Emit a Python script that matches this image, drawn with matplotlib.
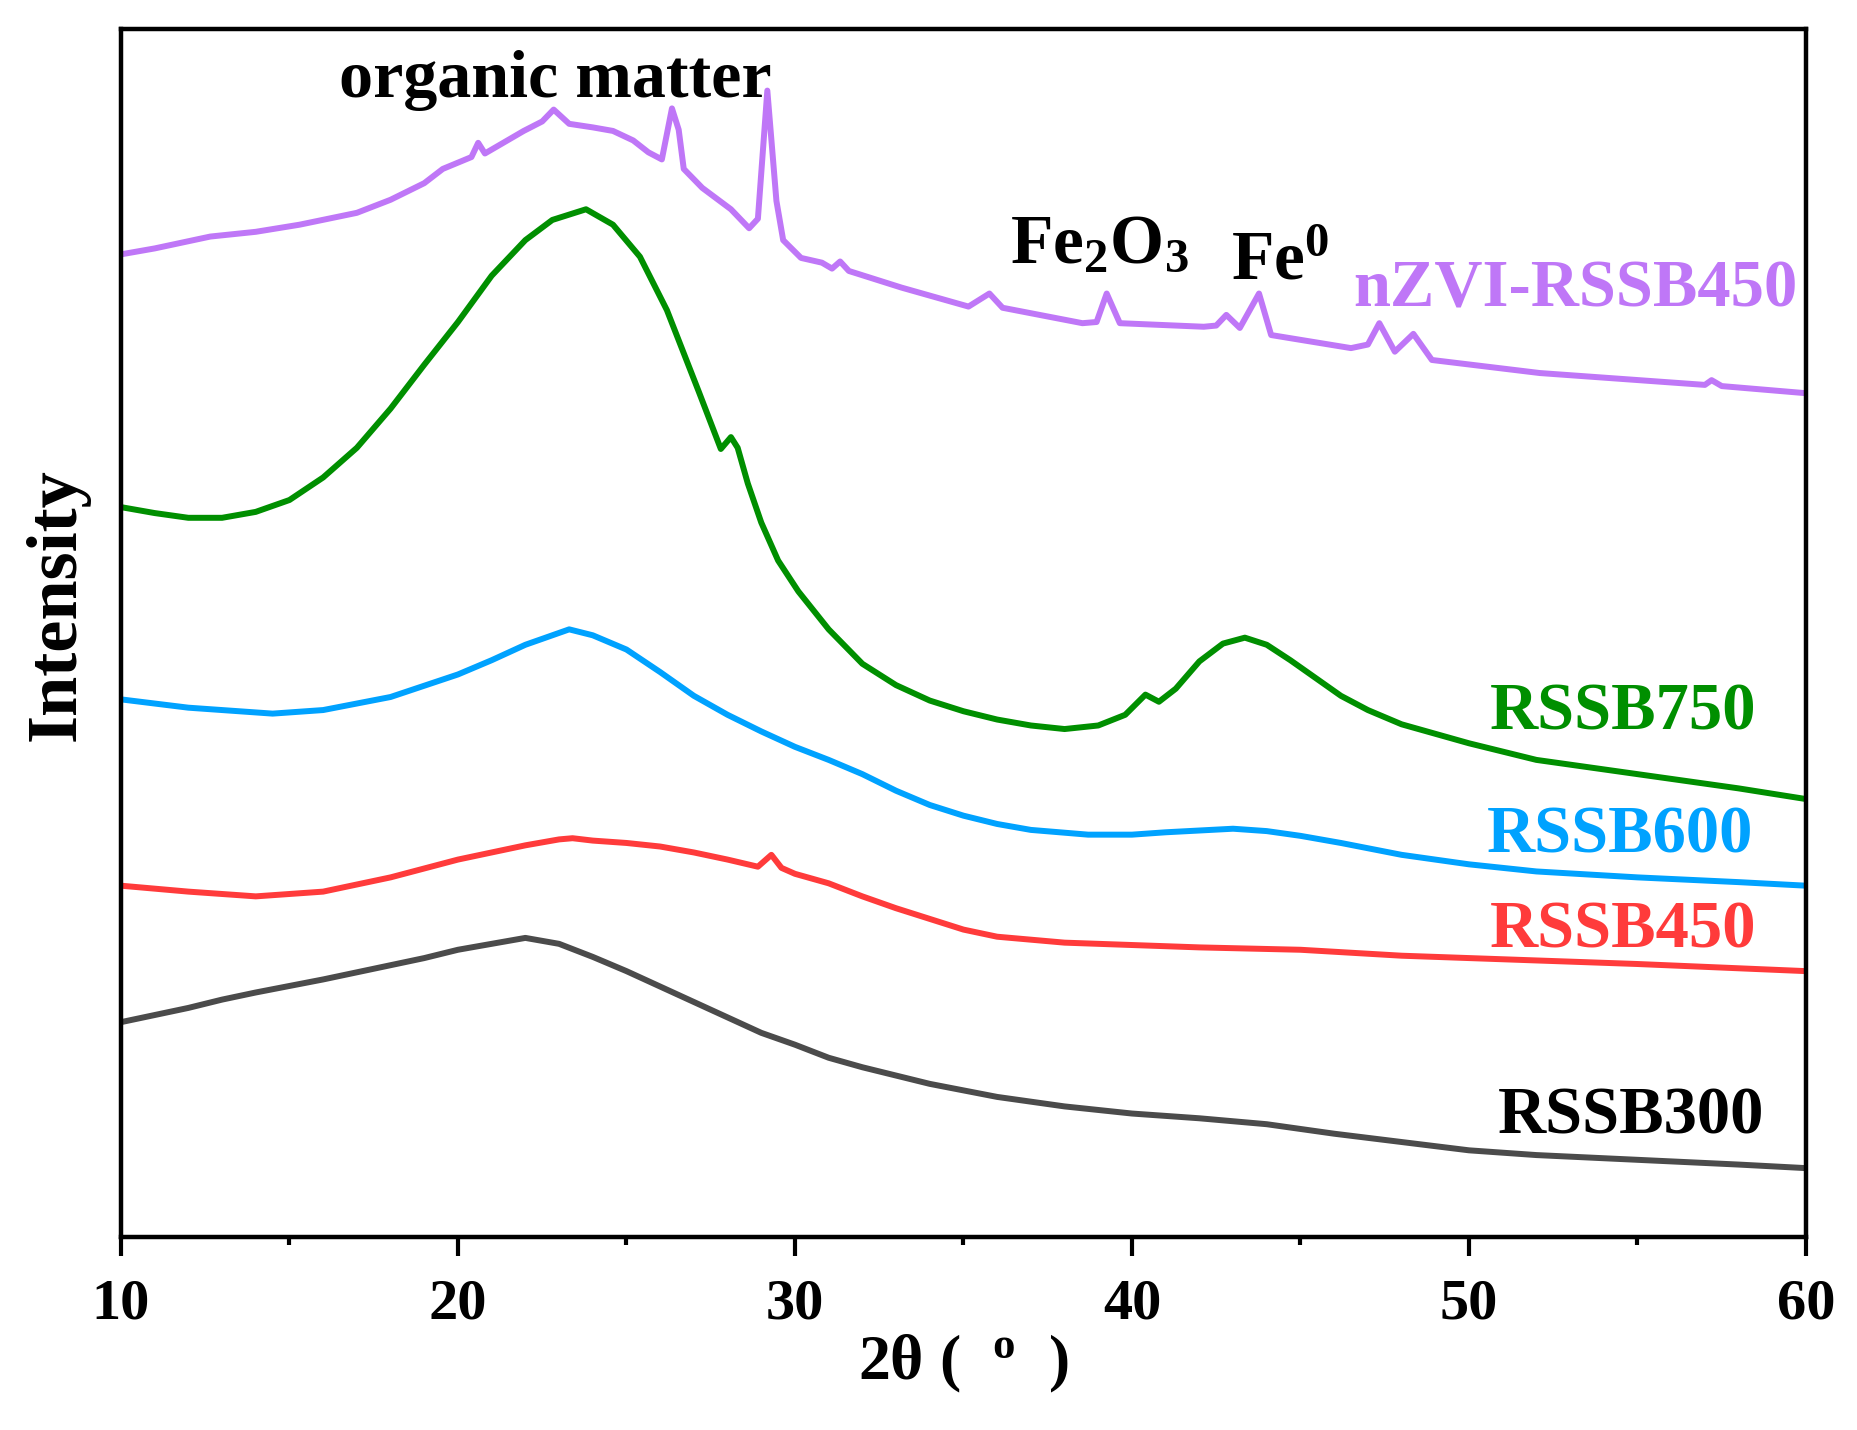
import matplotlib
matplotlib.use('Agg')
import matplotlib.pyplot as plt
from matplotlib.ticker import MultipleLocator

plt.rcParams['font.family'] = ['Liberation Serif', 'DejaVu Serif']
plt.rcParams['font.weight'] = 'bold'
plt.rcParams['mathtext.fontset'] = 'custom'
plt.rcParams['mathtext.rm'] = 'Liberation Serif'
plt.rcParams['mathtext.it'] = 'Liberation Serif:italic'
plt.rcParams['mathtext.bf'] = 'Liberation Serif:bold'

# RSSB300 (dark grey)
x_300 = [10, 12, 13, 14, 16, 18, 19, 20, 21, 22, 23, 24, 25, 26, 27, 28, 29, 30,
         31, 32, 34, 36, 38, 40, 42, 44, 45, 46, 48, 50, 52, 55, 58, 60]
y_300 = [181, 193, 200, 206, 217, 229, 235, 242, 247, 252, 247, 236, 224, 211, 198, 185, 172, 162,
         151, 143, 129, 118, 110, 104, 100, 95, 91, 87, 80, 73, 69, 65, 61, 58]

# RSSB450 (red)
x_450 = [10, 12, 14, 16, 18, 20, 22, 23, 23.4, 24, 25, 26, 27, 28, 28.9, 29.3, 29.6, 30,
         31, 32, 33, 34, 35, 36, 38, 40, 42, 45, 48, 50, 55, 60]
y_450 = [296, 291, 287, 291, 303, 318, 330, 335, 336, 334, 332, 329, 324, 318, 312, 322, 311, 306,
         298, 287, 277, 268, 259, 253, 248, 246, 244, 242, 237, 235, 230, 224]

# RSSB600 (blue)
x_600 = [10, 12, 14.5, 16, 18, 20, 21, 22, 23, 23.3, 24, 25, 26, 27, 28, 29, 30, 31, 32,
         33, 34, 35, 36, 37, 38.7, 40, 41, 43, 44, 45, 46.2, 48, 50, 52, 55, 58, 60]
y_600 = [453, 446, 441, 444, 455, 474, 486, 499, 509, 512, 507, 495, 476, 456, 440, 426, 413, 402, 390,
         376, 364, 355, 348, 343, 339, 339, 341, 344, 342, 338, 332, 322, 314, 308, 303, 299, 296]

# RSSB750 (green)
x_750 = [10, 11, 12, 13, 14, 15, 16, 17, 18, 19, 20, 21, 22, 22.8, 23.8, 24.6, 25.4, 26.2,
         27.15, 27.8, 28.1, 28.3, 28.6, 29.0, 29.5, 30.1, 31, 32, 33, 34, 35, 36, 37, 38, 39,
         39.8, 40.4, 40.8, 41.3, 42, 42.7, 43.35, 44, 44.7, 45.5, 46.2, 47, 48, 49, 50, 52, 55,
         58, 60]
y_750 = [615, 610, 606, 606, 611, 621, 640, 665, 698, 735, 771, 810, 840, 857, 866, 853, 826, 781,
         712, 664, 674, 665, 635, 602, 570, 544, 512, 483, 465, 452, 443, 436, 431, 428, 431,
         440, 457, 451, 462, 485, 500, 505, 499, 486, 470, 456, 444, 432, 424, 416, 402, 390,
         378, 369]

# nZVI-RSSB450 (purple)
x_nzvi = [10, 11, 12.65, 14, 15.3, 17, 18, 19, 19.55, 20.4, 20.6, 20.8, 21.95, 22.5, 22.84,
          23.3, 24.0, 24.6, 25.2, 25.65, 26.05, 26.35, 26.55, 26.7, 27.25, 28.1, 28.64, 28.9,
          29.18, 29.45, 29.65, 30.18, 30.8, 31.1, 31.34, 31.6, 33.16, 35.15, 35.77, 36.16,
          38.53, 38.95, 39.25, 39.64, 42.13, 42.5, 42.8, 43.2, 43.77, 44.13, 46.5, 47.0, 47.34,
          47.8, 48.35, 48.9, 52.1, 57.0, 57.2, 57.5, 60]
y_nzvi = [828, 833, 843, 847, 853, 863, 874, 888, 900, 910, 922, 913, 932, 940, 950,
          938, 935, 932, 924, 914, 908, 951, 933, 900, 884, 866, 850, 858,
          966, 873, 840, 825, 821, 816, 822, 814, 800, 784, 795, 783,
          770, 771, 795, 770, 767, 768, 777, 766, 795, 760, 749, 752, 770,
          746, 761, 739, 728, 718, 722, 717, 711]

series = [
    (x_300, y_300, '#4b4b4b'),
    (x_450, y_450, '#ff3b3b'),
    (x_600, y_600, '#00a2ff'),
    (x_750, y_750, '#008f00'),
    (x_nzvi, y_nzvi, '#bf77f7'),
]

fig = plt.figure(figsize=(18.58, 14.30), dpi=100)
ax = fig.add_axes([0.0651, 0.135, 0.9069, 0.8448])

for xs, ys, c in series:
    ax.plot(xs, ys, color=c, linewidth=4.3, solid_joinstyle='round')

ax.set_xlim(10, 60)
ax.set_ylim(0, 1018)

for s in ax.spines.values():
    s.set_linewidth(3.2)

ax.xaxis.set_major_locator(MultipleLocator(10))
ax.xaxis.set_minor_locator(MultipleLocator(5))
ax.tick_params(axis='x', which='major', direction='out', length=14, width=3, labelsize=42, pad=16)
ax.tick_params(axis='x', which='minor', direction='out', length=6, width=3)
ax.set_yticks([])

ax.set_xlabel(r'2θ (  $^{\mathbf{o}}$  )', fontsize=46, fontweight='bold', labelpad=2)
fig.text(0.0307, 0.577, 'Intensity', rotation=90, fontsize=52, fontweight='bold',
         ha='center', va='center')

# annotations
ax.text(16.48, 961, 'organic matter', fontsize=49, ha='left', va='baseline')
ax.text(36.37, 821, r'$\mathrm{Fe_2O_3}$', fontsize=50, ha='left', va='baseline')
ax.text(42.94, 807, r'$\mathrm{Fe^0}$', fontsize=50, ha='left', va='baseline')

ax.text(59.76, 784, 'nZVI-RSSB450', color='#bf77f7', fontsize=48, ha='right', va='baseline')
ax.text(58.54, 428, 'RSSB750', color='#008f00', fontsize=48, ha='right', va='baseline')
ax.text(58.43, 324, 'RSSB600', color='#00a2ff', fontsize=48, ha='right', va='baseline')
ax.text(58.54, 244, 'RSSB450', color='#ff3b3b', fontsize=48, ha='right', va='baseline')
ax.text(58.75, 87, 'RSSB300', color='black', fontsize=48, ha='right', va='baseline')

fig.savefig('out.png', dpi=100)
